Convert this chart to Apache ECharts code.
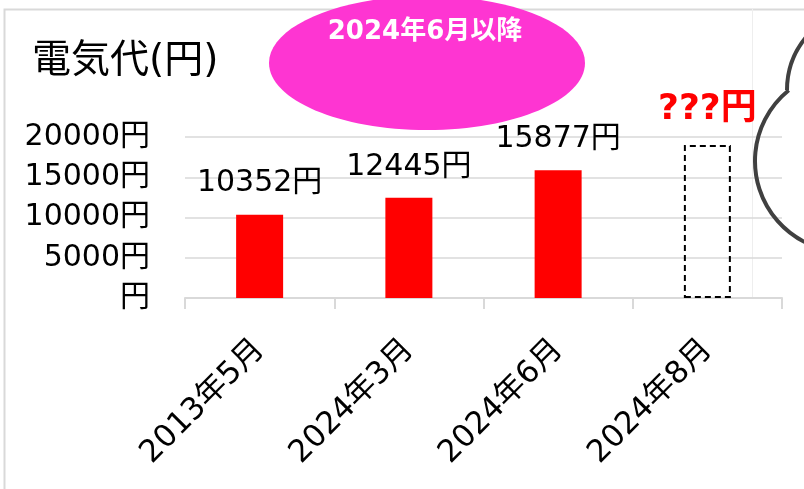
<!DOCTYPE html>
<html>
<head>
<meta charset="utf-8">
<script src="https://cdn.jsdelivr.net/npm/echarts@6/dist/echarts.min.js"></script>
<style>
  html, body { margin: 0; padding: 0; background: #fff; }
  #main { width: 804px; height: 489px; }
</style>
</head>
<body>
<div id="main"></div>
<script>
'use strict';
var categories = ['2013年5月', '2024年3月', '2024年6月', '2024年8月'];
var bills = [10352, 12445, 15877, 19000];
var estimateLabel = '???円';
var yTicks = [0, 5000, 10000, 15000, 20000];
var bubbleText = '2024年6月以降';
var titleText = '電気代(円)';

var FONT = 'DejaVu Sans, Noto Sans CJK JP, sans-serif';
var chart = echarts.init(document.getElementById('main'));

var barData = bills.map(function (v, i) {
  if (i < bills.length - 1) return v;
  // last month is not known yet: dashed empty box
  return {
    value: v,
    itemStyle: { color: 'rgba(0,0,0,0)', borderColor: '#000', borderWidth: 2, borderType: [6, 4] },
    label: { formatter: estimateLabel, color: '#ff0000', fontWeight: 'bold', fontSize: 36, distance: 17 }
  };
});

chart.setOption({
  animation: false,
  backgroundColor: '#fff',
  title: {
    text: titleText, left: 27, top: 37,
    textStyle: { fontFamily: FONT, fontSize: 39, fontWeight: 'normal', color: '#000' }
  },
  grid: { left: 185, right: 22, top: 137, bottom: 191 },
  xAxis: {
    type: 'category',
    data: categories,
    axisLine: { lineStyle: { color: '#d9d9d9', width: 2 } },
    axisTick: { show: true, length: 11, lineStyle: { color: '#d9d9d9', width: 2 } },
    axisLabel: { rotate: 45, margin: 47, fontFamily: FONT, fontSize: 31, color: '#000' }
  },
  yAxis: {
    type: 'value',
    min: yTicks[0], max: yTicks[yTicks.length - 1], interval: yTicks[1] - yTicks[0],
    axisLine: { show: false },
    axisTick: { show: false },
    splitLine: { lineStyle: { color: '#d9d9d9', width: 1.5 } },
    axisLabel: {
      margin: 35, fontFamily: FONT, fontSize: 30, color: '#000',
      formatter: function (v) { return v === 0 ? '円' : v + '円'; }
    }
  },
  series: [{
    type: 'bar',
    barWidth: 47,
    data: barData,
    itemStyle: { color: '#ff0000' },
    label: {
      show: true, position: 'top', distance: 16,
      fontFamily: FONT, fontSize: 30, color: '#000',
      formatter: function (p) { return p.value + '円'; }
    }
  }],
  graphic: [
    // outer chart frame
    { type: 'rect', z: -1, shape: { x: 4.5, y: 9.5, width: 900, height: 600 },
      style: { fill: 'none', stroke: '#d9d9d9', lineWidth: 2 } },
    { type: 'line', z: -1, shape: { x1: 752.5, y1: 9, x2: 752.5, y2: 298 },
      style: { stroke: '#eeeeee', lineWidth: 1 } },
    // pink callout ellipse
    { type: 'ellipse', z: 10, shape: { cx: 427, cy: 63, rx: 158, ry: 67 },
      style: { fill: '#fe35d2' } },
    { type: 'text', z: 11, x: 425, y: 32,
      style: { text: bubbleText, fill: '#fff', fontFamily: FONT, fontWeight: 'bold', fontSize: 26,
               textAlign: 'center', textVerticalAlign: 'middle' } },
    // cloud bumps at the right edge
    { type: 'arc', z: 10, shape: { cx: 870, cy: 90, r: 83, startAngle: Math.PI * 1.0, endAngle: Math.PI * 1.45 },
      style: { fill: 'none', stroke: '#404040', lineWidth: 4 } },
    { type: 'arc', z: 10, shape: { cx: 846, cy: 161, r: 91, startAngle: 117 * Math.PI / 180, endAngle: 231 * Math.PI / 180 },
      style: { fill: 'none', stroke: '#404040', lineWidth: 4 } }
  ]
});
</script>
</body>
</html>
